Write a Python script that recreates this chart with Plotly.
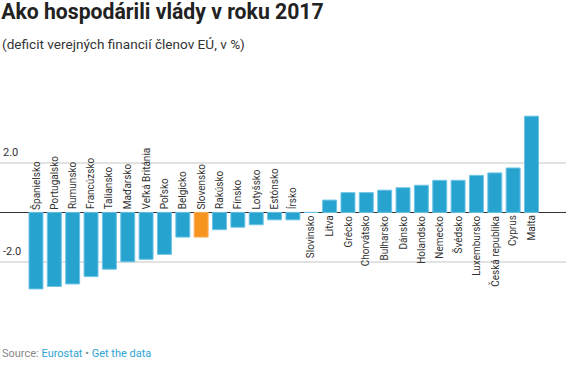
import plotly.graph_objects as go

countries = ["Španielsko", "Portugalsko", "Rumunsko", "Francúzsko", "Taliansko", "Maďarsko",
             "Veľká Británia", "Poľsko", "Belgicko", "Slovensko", "Rakúsko", "Fínsko",
             "Lotyšsko", "Estónsko", "Írsko", "Slovinsko", "Litva", "Grécko", "Chorvátsko",
             "Bulharsko", "Dánsko", "Holandsko", "Nemecko", "Švédsko", "Luxembursko",
             "Česká republika", "Cyprus", "Malta"]
values = [-3.1, -3.0, -2.9, -2.6, -2.3, -2.0, -1.9, -1.7, -1.0, -1.0, -0.7, -0.6,
          -0.5, -0.3, -0.3, 0.0, 0.5, 0.8, 0.8, 0.9, 1.0, 1.1, 1.3, 1.3, 1.5, 1.6, 1.8, 3.9]
highlight = "Slovensko"
tick_vals = [-2, 2]
tick_text = ["-2.0", "2.0"]

BLUE = "#27a3cf"
ORANGE = "#f7941e"

colors = [ORANGE if c == highlight else BLUE for c in countries]
line_colors = ["#f9b160" if c == highlight else "#6cc3e6" for c in countries]

fig = go.Figure()
fig.add_trace(go.Bar(
    x=list(range(len(countries))), y=values,
    marker=dict(color=colors, line=dict(color=line_colors, width=1)),
    hovertext=countries, hoverinfo="text+y",
))

annotations = []
for i, (c, v) in enumerate(zip(countries, values)):
    if v < 0:
        annotations.append(dict(x=i, y=0, xref="x", yref="y", text=c, showarrow=False,
                                textangle=-90, xanchor="center", yanchor="bottom", yshift=1,
                                font=dict(family="Roboto", size=10, color="#333")))
    else:
        annotations.append(dict(x=i, y=0, xref="x", yref="y", text=c, showarrow=False,
                                textangle=-90, xanchor="center", yanchor="top", yshift=-1,
                                font=dict(family="Roboto", size=10, color="#333")))

plot_h = 387 - 110 - 66
def ypaper(pix):
    return (387 - 66 - pix) / plot_h

annotations.append(dict(x=0, y=ypaper(44), xref="paper", yref="paper", xanchor="left",
                        yanchor="middle", showarrow=False,
                        text="(deficit verejných financií členov EÚ, v %)",
                        font=dict(family="Roboto", size=13.6, color="#333")))
annotations.append(dict(x=0, y=ypaper(353), xref="paper", yref="paper", xanchor="left",
                        yanchor="middle", showarrow=False,
                        text="<span style='color:#888'>Source: </span>Eurostat<span style='color:#888'> • </span>Get the data",
                        font=dict(family="Roboto", size=11, color="#2ea3d3")))

fig.update_layout(
    width=586, height=387,
    margin=dict(l=0, r=20, t=110, b=66),
    paper_bgcolor="white", plot_bgcolor="white",
    bargap=0.24,
    showlegend=False,
    title=dict(text="Ako hospodárili vlády v roku 2017", x=0.002, xref="container", xanchor="left",
               y=1 - 12 / 387, yref="container", yanchor="middle",
               font=dict(family="Roboto", size=21.2, color="#222", weight=700)),
    xaxis=dict(range=[-1.96, 28.88], showticklabels=False, showgrid=False, zeroline=False,
               fixedrange=True),
    yaxis=dict(range=[-4.4, 4.15], tickvals=tick_vals, ticktext=tick_text,
               ticklabelposition="inside top", ticklabelshift=-3,
               showgrid=True, gridcolor="#e2e2e2", gridwidth=1.5,
               zeroline=True, zerolinecolor="#333", zerolinewidth=1.3,
               tickfont=dict(family="Roboto", size=11, color="#333"), fixedrange=True),
    annotations=annotations,
)

fig.write_html("out.html", config={"displayModeBar": False},
               post_script="document.body.style.margin='0';")
